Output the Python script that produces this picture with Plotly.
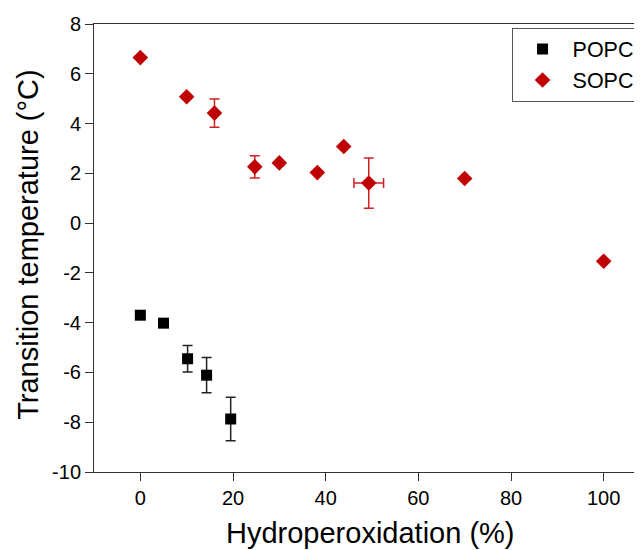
import plotly.graph_objects as go

# POPC data
popc_x = [0, 5, 10.2, 14.3, 19.5]
popc_y = [-3.7, -4.02, -5.45, -6.11, -7.87]
popc_yerr = [0, 0, 0.53, 0.71, 0.87]

# SOPC data
sopc_x = [0, 10, 16, 24.7, 30, 38.2, 43.9, 49.3, 70, 100]
sopc_y = [6.65, 5.08, 4.42, 2.26, 2.42, 2.03, 3.08, 1.61, 1.79, -1.53]
sopc_yerr = [0, 0, 0.57, 0.45, 0, 0, 0, 1.01, 0, 0]
sopc_xerr = [0, 0, 0, 0, 0, 0, 0, 3.2, 0, 0]

x_ticks = [0, 20, 40, 60, 80, 100]
y_ticks = [8, 6, 4, 2, 0, -2, -4, -6, -8, -10]

FONT = "Arial, Liberation Sans, sans-serif"

fig = go.Figure()
fig.add_trace(go.Scatter(
    x=popc_x, y=popc_y, mode="markers", name="POPC",
    marker=dict(symbol="square", size=11, color="#000000"),
    error_y=dict(type="data", array=popc_yerr, visible=True, color="#222222", thickness=1.5, width=5),
))
fig.add_trace(go.Scatter(
    x=sopc_x, y=sopc_y, mode="markers", name="SOPC",
    marker=dict(symbol="diamond", size=12, color="#C00000"),
    error_y=dict(type="data", array=sopc_yerr, visible=True, color="#D02020", thickness=1.5, width=5),
    error_x=dict(type="data", array=sopc_xerr, visible=True, color="#D02020", thickness=1.5, width=5),
))

fig.update_layout(
    width=642, height=550,
    margin=dict(l=86, r=0, t=16, b=86, pad=0),
    plot_bgcolor="white", paper_bgcolor="white",
    font=dict(family=FONT, color="black"),
    showlegend=True,
    legend=dict(
        x=0.751, y=0.992, xanchor="left", yanchor="top",
        bordercolor="#555555", borderwidth=1, bgcolor="white",
        font=dict(size=21.5, family=FONT, color="black"),
        itemwidth=50, tracegroupgap=0,
    ),
    xaxis=dict(
        range=[-10, 110], tickvals=x_ticks, ticktext=[str(v) for v in x_ticks],
        ticks="outside", ticklen=8, tickwidth=1, tickcolor="#333333",
        showline=True, linecolor="#333333", linewidth=1, mirror=True,
        showgrid=False, zeroline=False,
        tickfont=dict(size=20, family=FONT, color="black"),
    ),
    yaxis=dict(
        range=[-10, 8], tickvals=y_ticks, ticktext=[str(v) for v in y_ticks],
        ticks="outside", ticklen=8, tickwidth=1, tickcolor="#333333",
        showline=True, linecolor="#333333", linewidth=1,
        showgrid=False, zeroline=False,
        tickfont=dict(size=20, family=FONT, color="black"),
    ),
    annotations=[
        dict(text="Hydroperoxidation (%)", xref="paper", yref="paper",
             x=0.498, y=0, xanchor="center", yanchor="top", yshift=-43,
             showarrow=False, font=dict(size=29, family=FONT, color="black")),
        dict(text="Transition temperature (°C)", xref="paper", yref="paper",
             x=-0.1187, y=0.507, xanchor="center", yanchor="middle", textangle=-90,
             showarrow=False, font=dict(size=29, family=FONT, color="black")),
    ],
)

fig.write_html("out.html")
